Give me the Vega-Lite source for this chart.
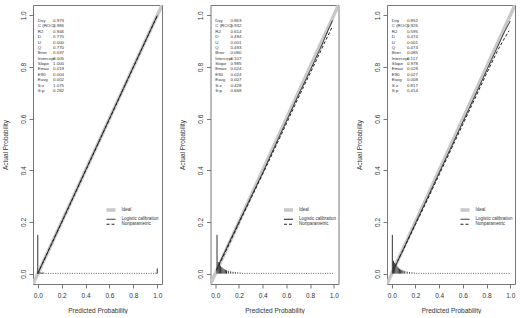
{
"$schema":"https://vega.github.io/schema/vega-lite/v6.json",
"padding":{"left":1,"top":4,"right":0,"bottom":0},
"bounds":"flush",
"spacing":48.5,
"datasets":{
"lines":[
{"p":1,"curve":"Ideal","x":-0.04,"y":-0.04},{"p":1,"curve":"Ideal","x":1.04,"y":1.04},
{"p":1,"curve":"Logistic calibration","x":0.0,"y":0.0},{"p":1,"curve":"Logistic calibration","x":0.2,"y":0.2},{"p":1,"curve":"Logistic calibration","x":0.4,"y":0.4},{"p":1,"curve":"Logistic calibration","x":0.6,"y":0.6},{"p":1,"curve":"Logistic calibration","x":0.8,"y":0.8},{"p":1,"curve":"Logistic calibration","x":1.0,"y":0.999},
{"p":1,"curve":"Nonparametric","x":0.0,"y":0.001},{"p":1,"curve":"Nonparametric","x":0.2,"y":0.198},{"p":1,"curve":"Nonparametric","x":0.4,"y":0.398},{"p":1,"curve":"Nonparametric","x":0.6,"y":0.598},{"p":1,"curve":"Nonparametric","x":0.8,"y":0.799},{"p":1,"curve":"Nonparametric","x":1.0,"y":0.998},
{"p":2,"curve":"Ideal","x":-0.04,"y":-0.04},{"p":2,"curve":"Ideal","x":1.04,"y":1.04},
{"p":2,"curve":"Logistic calibration","x":0.01,"y":0.012},{"p":2,"curve":"Logistic calibration","x":0.05,"y":0.055},{"p":2,"curve":"Logistic calibration","x":0.1,"y":0.103},{"p":2,"curve":"Logistic calibration","x":0.2,"y":0.2},{"p":2,"curve":"Logistic calibration","x":0.3,"y":0.295},{"p":2,"curve":"Logistic calibration","x":0.4,"y":0.39},{"p":2,"curve":"Logistic calibration","x":0.5,"y":0.49},{"p":2,"curve":"Logistic calibration","x":0.6,"y":0.59},{"p":2,"curve":"Logistic calibration","x":0.7,"y":0.69},{"p":2,"curve":"Logistic calibration","x":0.8,"y":0.785},{"p":2,"curve":"Logistic calibration","x":0.9,"y":0.885},{"p":2,"curve":"Logistic calibration","x":0.95,"y":0.94},{"p":2,"curve":"Logistic calibration","x":0.99,"y":0.98},
{"p":2,"curve":"Nonparametric","x":0.01,"y":0.015},{"p":2,"curve":"Nonparametric","x":0.05,"y":0.05},{"p":2,"curve":"Nonparametric","x":0.1,"y":0.098},{"p":2,"curve":"Nonparametric","x":0.2,"y":0.195},{"p":2,"curve":"Nonparametric","x":0.3,"y":0.29},{"p":2,"curve":"Nonparametric","x":0.4,"y":0.385},{"p":2,"curve":"Nonparametric","x":0.5,"y":0.482},{"p":2,"curve":"Nonparametric","x":0.6,"y":0.58},{"p":2,"curve":"Nonparametric","x":0.7,"y":0.68},{"p":2,"curve":"Nonparametric","x":0.8,"y":0.775},{"p":2,"curve":"Nonparametric","x":0.9,"y":0.872},{"p":2,"curve":"Nonparametric","x":0.95,"y":0.92},{"p":2,"curve":"Nonparametric","x":0.99,"y":0.958},
{"p":3,"curve":"Ideal","x":-0.04,"y":-0.04},{"p":3,"curve":"Ideal","x":1.04,"y":1.04},
{"p":3,"curve":"Logistic calibration","x":0.01,"y":0.008},{"p":3,"curve":"Logistic calibration","x":0.05,"y":0.048},{"p":3,"curve":"Logistic calibration","x":0.1,"y":0.097},{"p":3,"curve":"Logistic calibration","x":0.2,"y":0.195},{"p":3,"curve":"Logistic calibration","x":0.3,"y":0.292},{"p":3,"curve":"Logistic calibration","x":0.4,"y":0.39},{"p":3,"curve":"Logistic calibration","x":0.5,"y":0.488},{"p":3,"curve":"Logistic calibration","x":0.6,"y":0.587},{"p":3,"curve":"Logistic calibration","x":0.7,"y":0.686},{"p":3,"curve":"Logistic calibration","x":0.8,"y":0.786},{"p":3,"curve":"Logistic calibration","x":0.9,"y":0.885},{"p":3,"curve":"Logistic calibration","x":0.95,"y":0.935},{"p":3,"curve":"Logistic calibration","x":1.0,"y":0.978},
{"p":3,"curve":"Nonparametric","x":0.01,"y":0.012},{"p":3,"curve":"Nonparametric","x":0.05,"y":0.05},{"p":3,"curve":"Nonparametric","x":0.1,"y":0.095},{"p":3,"curve":"Nonparametric","x":0.2,"y":0.19},{"p":3,"curve":"Nonparametric","x":0.3,"y":0.285},{"p":3,"curve":"Nonparametric","x":0.4,"y":0.383},{"p":3,"curve":"Nonparametric","x":0.5,"y":0.48},{"p":3,"curve":"Nonparametric","x":0.6,"y":0.578},{"p":3,"curve":"Nonparametric","x":0.7,"y":0.676},{"p":3,"curve":"Nonparametric","x":0.8,"y":0.775},{"p":3,"curve":"Nonparametric","x":0.9,"y":0.87},{"p":3,"curve":"Nonparametric","x":0.95,"y":0.91},{"p":3,"curve":"Nonparametric","x":0.99,"y":0.94}
],
"spikes":[
{"p":1,"x":0,"h":0.15},{"p":1,"x":0.01,"h":0.006},{"p":1,"x":0.02,"h":0.005},{"p":1,"x":0.03,"h":0.004},{"p":1,"x":0.04,"h":0.004},{"p":1,"x":0.05,"h":0.004},{"p":1,"x":0.07,"h":0.003},
{"p":1,"x":0.09,"h":0.003},{"p":1,"x":0.11,"h":0.003},{"p":1,"x":0.13,"h":0.003},{"p":1,"x":0.15,"h":0.003},{"p":1,"x":0.17,"h":0.003},{"p":1,"x":0.19,"h":0.003},{"p":1,"x":0.21,"h":0.003},{"p":1,"x":0.23,"h":0.003},{"p":1,"x":0.25,"h":0.003},{"p":1,"x":0.27,"h":0.003},{"p":1,"x":0.29,"h":0.003},{"p":1,"x":0.31,"h":0.003},{"p":1,"x":0.33,"h":0.003},{"p":1,"x":0.35,"h":0.003},{"p":1,"x":0.37,"h":0.003},{"p":1,"x":0.39,"h":0.003},{"p":1,"x":0.41,"h":0.003},{"p":1,"x":0.43,"h":0.003},{"p":1,"x":0.45,"h":0.003},{"p":1,"x":0.47,"h":0.003},{"p":1,"x":0.49,"h":0.003},{"p":1,"x":0.51,"h":0.003},{"p":1,"x":0.53,"h":0.003},{"p":1,"x":0.55,"h":0.003},{"p":1,"x":0.57,"h":0.003},{"p":1,"x":0.59,"h":0.003},{"p":1,"x":0.61,"h":0.003},{"p":1,"x":0.63,"h":0.003},{"p":1,"x":0.65,"h":0.003},{"p":1,"x":0.67,"h":0.003},{"p":1,"x":0.69,"h":0.003},{"p":1,"x":0.71,"h":0.003},{"p":1,"x":0.73,"h":0.003},{"p":1,"x":0.75,"h":0.003},{"p":1,"x":0.77,"h":0.003},{"p":1,"x":0.79,"h":0.003},{"p":1,"x":0.81,"h":0.003},{"p":1,"x":0.83,"h":0.003},{"p":1,"x":0.85,"h":0.003},{"p":1,"x":0.87,"h":0.003},{"p":1,"x":0.89,"h":0.003},{"p":1,"x":0.91,"h":0.003},{"p":1,"x":0.93,"h":0.003},{"p":1,"x":0.95,"h":0.003},{"p":1,"x":0.97,"h":0.003},{"p":1,"x":0.99,"h":0.004},{"p":1,"x":1.0,"h":0.02},
{"p":2,"x":0.015,"h":0.15},{"p":2,"x":0.025,"h":0.045},{"p":2,"x":0.035,"h":0.036},{"p":2,"x":0.045,"h":0.03},{"p":2,"x":0.055,"h":0.025},{"p":2,"x":0.065,"h":0.021},{"p":2,"x":0.075,"h":0.018},{"p":2,"x":0.085,"h":0.015},{"p":2,"x":0.095,"h":0.013},{"p":2,"x":0.11,"h":0.011},{"p":2,"x":0.13,"h":0.009},{"p":2,"x":0.15,"h":0.007},{"p":2,"x":0.17,"h":0.006},{"p":2,"x":0.19,"h":0.005},{"p":2,"x":0.21,"h":0.004},
{"p":2,"x":0.23,"h":0.003},{"p":2,"x":0.25,"h":0.003},{"p":2,"x":0.27,"h":0.003},{"p":2,"x":0.29,"h":0.003},{"p":2,"x":0.31,"h":0.003},{"p":2,"x":0.33,"h":0.003},{"p":2,"x":0.35,"h":0.003},{"p":2,"x":0.37,"h":0.003},{"p":2,"x":0.39,"h":0.003},{"p":2,"x":0.41,"h":0.003},{"p":2,"x":0.43,"h":0.003},{"p":2,"x":0.45,"h":0.003},{"p":2,"x":0.47,"h":0.003},{"p":2,"x":0.49,"h":0.003},{"p":2,"x":0.51,"h":0.003},{"p":2,"x":0.53,"h":0.003},{"p":2,"x":0.55,"h":0.003},{"p":2,"x":0.57,"h":0.003},{"p":2,"x":0.59,"h":0.003},{"p":2,"x":0.61,"h":0.003},{"p":2,"x":0.63,"h":0.003},{"p":2,"x":0.65,"h":0.003},{"p":2,"x":0.67,"h":0.003},{"p":2,"x":0.69,"h":0.003},{"p":2,"x":0.71,"h":0.003},{"p":2,"x":0.73,"h":0.003},{"p":2,"x":0.75,"h":0.003},{"p":2,"x":0.77,"h":0.003},{"p":2,"x":0.79,"h":0.003},{"p":2,"x":0.81,"h":0.003},{"p":2,"x":0.83,"h":0.003},{"p":2,"x":0.85,"h":0.003},{"p":2,"x":0.87,"h":0.003},{"p":2,"x":0.89,"h":0.003},{"p":2,"x":0.91,"h":0.003},{"p":2,"x":0.93,"h":0.003},{"p":2,"x":0.95,"h":0.003},{"p":2,"x":0.97,"h":0.003},{"p":2,"x":0.99,"h":0.003},
{"p":3,"x":0.005,"h":0.15},{"p":3,"x":0.015,"h":0.05},{"p":3,"x":0.025,"h":0.042},{"p":3,"x":0.035,"h":0.034},{"p":3,"x":0.045,"h":0.028},{"p":3,"x":0.055,"h":0.023},{"p":3,"x":0.065,"h":0.019},{"p":3,"x":0.075,"h":0.016},{"p":3,"x":0.085,"h":0.014},{"p":3,"x":0.095,"h":0.012},{"p":3,"x":0.11,"h":0.01},{"p":3,"x":0.13,"h":0.008},{"p":3,"x":0.15,"h":0.006},{"p":3,"x":0.17,"h":0.005},{"p":3,"x":0.19,"h":0.004},
{"p":3,"x":0.21,"h":0.003},{"p":3,"x":0.23,"h":0.003},{"p":3,"x":0.25,"h":0.003},{"p":3,"x":0.27,"h":0.003},{"p":3,"x":0.29,"h":0.003},{"p":3,"x":0.31,"h":0.003},{"p":3,"x":0.33,"h":0.003},{"p":3,"x":0.35,"h":0.003},{"p":3,"x":0.37,"h":0.003},{"p":3,"x":0.39,"h":0.003},{"p":3,"x":0.41,"h":0.003},{"p":3,"x":0.43,"h":0.003},{"p":3,"x":0.45,"h":0.003},{"p":3,"x":0.47,"h":0.003},{"p":3,"x":0.49,"h":0.003},{"p":3,"x":0.51,"h":0.003},{"p":3,"x":0.53,"h":0.003},{"p":3,"x":0.55,"h":0.003},{"p":3,"x":0.57,"h":0.003},{"p":3,"x":0.59,"h":0.003},{"p":3,"x":0.61,"h":0.003},{"p":3,"x":0.63,"h":0.003},{"p":3,"x":0.65,"h":0.003},{"p":3,"x":0.67,"h":0.003},{"p":3,"x":0.69,"h":0.003},{"p":3,"x":0.71,"h":0.003},{"p":3,"x":0.73,"h":0.003},{"p":3,"x":0.75,"h":0.003},{"p":3,"x":0.77,"h":0.003},{"p":3,"x":0.79,"h":0.003},{"p":3,"x":0.81,"h":0.003},{"p":3,"x":0.83,"h":0.003},{"p":3,"x":0.85,"h":0.003},{"p":3,"x":0.87,"h":0.003},{"p":3,"x":0.89,"h":0.003},{"p":3,"x":0.91,"h":0.003},{"p":3,"x":0.93,"h":0.003},{"p":3,"x":0.95,"h":0.003},{"p":3,"x":0.97,"h":0.003},{"p":3,"x":0.99,"h":0.003}
],
"stats":[
{"p":1,"stat":"Dxy","v":0.973},{"p":1,"stat":"C (ROC)","v":0.986},{"p":1,"stat":"R2","v":0.946},{"p":1,"stat":"D","v":0.770},{"p":1,"stat":"U","v":0.000},{"p":1,"stat":"Q","v":0.770},{"p":1,"stat":"Brier","v":0.037},{"p":1,"stat":"Intercept","v":0.005},{"p":1,"stat":"Slope","v":1.000},{"p":1,"stat":"Emax","v":0.019},{"p":1,"stat":"E90","v":0.004},{"p":1,"stat":"Eavg","v":0.002},{"p":1,"stat":"S:z","v":1.075},{"p":1,"stat":"S:p","v":0.282},
{"p":2,"stat":"Dxy","v":0.863},{"p":2,"stat":"C (ROC)","v":0.932},{"p":2,"stat":"R2","v":0.614},{"p":2,"stat":"D","v":0.494},{"p":2,"stat":"U","v":0.001},{"p":2,"stat":"Q","v":0.493},{"p":2,"stat":"Brier","v":0.080},{"p":2,"stat":"Intercept","v":0.107},{"p":2,"stat":"Slope","v":0.985},{"p":2,"stat":"Emax","v":0.024},{"p":2,"stat":"E90","v":0.024},{"p":2,"stat":"Eavg","v":0.007},{"p":2,"stat":"S:z","v":0.428},{"p":2,"stat":"S:p","v":0.668},
{"p":3,"stat":"Dxy","v":0.852},{"p":3,"stat":"C (ROC)","v":0.926},{"p":3,"stat":"R2","v":0.595},{"p":3,"stat":"D","v":0.474},{"p":3,"stat":"U","v":0.001},{"p":3,"stat":"Q","v":0.473},{"p":3,"stat":"Brier","v":0.085},{"p":3,"stat":"Intercept","v":0.117},{"p":3,"stat":"Slope","v":0.978},{"p":3,"stat":"Emax","v":0.028},{"p":3,"stat":"E90","v":0.027},{"p":3,"stat":"Eavg","v":0.008},{"p":3,"stat":"S:z","v":0.817},{"p":3,"stat":"S:p","v":0.414}
]
},
"hconcat":[
{"width":129,"height":279,
"layer":[
{"data":{"name":"lines"},"transform":[{"filter":"datum.p==1"}],"mark":{"type":"line","clip":true},
"encoding":{
"x":{"field":"x","type":"quantitative","scale":{"domain":[-0.04,1.04],"nice":false,"zero":false},"axis":{"values":[0,0.2,0.4,0.6,0.8,1],"format":".1f","labelOverlap":false},"title":"Predicted Probability"},
"y":{"field":"y","type":"quantitative","scale":{"domain":[-0.04,1.04],"nice":false,"zero":false},"axis":{"values":[0,0.2,0.4,0.6,0.8,1],"format":".1f","labelOverlap":false},"title":"Actual Probability"},
"color":{"field":"curve","type":"nominal","scale":{"domain":["Ideal","Logistic calibration","Nonparametric"],"range":["#c8c8c8","#222222","#222222"]},"legend":{"title":null}},
"strokeDash":{"field":"curve","type":"nominal","scale":{"domain":["Ideal","Logistic calibration","Nonparametric"],"range":[[1,0],[1,0],[3,2]]},"legend":{"title":null}},
"strokeWidth":{"field":"curve","type":"nominal","scale":{"type":"ordinal","domain":["Ideal","Logistic calibration","Nonparametric"],"range":[3.5,1,1]},"legend":{"title":null}}}},
{"data":{"name":"spikes"},"transform":[{"filter":"datum.p==1"}],"mark":{"type":"rule","color":"#333333","strokeWidth":1},
"encoding":{"x":{"field":"x","type":"quantitative","axis":{"values":[0,0.2,0.4,0.6,0.8,1],"format":".1f","labelOverlap":false},"title":"Predicted Probability"},"y":{"field":"h","type":"quantitative","scale":{"domain":[-0.04,1.04],"nice":false,"zero":false},"axis":null},"y2":{"datum":0}}},
{"data":{"name":"stats"},"transform":[{"filter":"datum.p==1"}],"mark":{"type":"text","align":"left","baseline":"middle","fontSize":4.4,"color":"#333333"},
"encoding":{"x":{"datum":0,"type":"quantitative","axis":{"values":[0,0.2,0.4,0.6,0.8,1],"format":".1f","labelOverlap":false},"title":"Predicted Probability"},"y":{"field":"stat","type":"nominal","sort":["Dxy","C (ROC)","R2","D","U","Q","Brier","Intercept","Slope","Emax","E90","Eavg","S:z","S:p"],"scale":{"type":"point","range":[16,86],"padding":0},"axis":null},"text":{"field":"stat"}}},
{"data":{"name":"stats"},"transform":[{"filter":"datum.p==1"}],"mark":{"type":"text","align":"left","baseline":"middle","fontSize":4.4,"color":"#333333"},
"encoding":{"x":{"datum":0.128,"type":"quantitative","axis":{"values":[0,0.2,0.4,0.6,0.8,1],"format":".1f","labelOverlap":false},"title":"Predicted Probability"},"y":{"field":"stat","type":"nominal","sort":["Dxy","C (ROC)","R2","D","U","Q","Brier","Intercept","Slope","Emax","E90","Eavg","S:z","S:p"],"scale":{"type":"point","range":[16,86],"padding":0},"axis":null},"text":{"field":"v","format":".3f"}}}
],
"resolve":{"scale":{"y":"independent"}}},
{"width":128,"height":279,
"layer":[
{"data":{"name":"lines"},"transform":[{"filter":"datum.p==2"}],"mark":{"type":"line","clip":true},
"encoding":{
"x":{"field":"x","type":"quantitative","scale":{"domain":[-0.04,1.04],"nice":false,"zero":false},"axis":{"values":[0,0.2,0.4,0.6,0.8,1],"format":".1f","labelOverlap":false},"title":"Predicted Probability"},
"y":{"field":"y","type":"quantitative","scale":{"domain":[-0.04,1.04],"nice":false,"zero":false},"axis":{"values":[0,0.2,0.4,0.6,0.8,1],"format":".1f","labelOverlap":false},"title":"Actual Probability"},
"color":{"field":"curve","type":"nominal","scale":{"domain":["Ideal","Logistic calibration","Nonparametric"],"range":["#c8c8c8","#222222","#222222"]},"legend":{"title":null}},
"strokeDash":{"field":"curve","type":"nominal","scale":{"domain":["Ideal","Logistic calibration","Nonparametric"],"range":[[1,0],[1,0],[3,2]]},"legend":{"title":null}},
"strokeWidth":{"field":"curve","type":"nominal","scale":{"type":"ordinal","domain":["Ideal","Logistic calibration","Nonparametric"],"range":[3.5,1,1]},"legend":{"title":null}}}},
{"data":{"name":"spikes"},"transform":[{"filter":"datum.p==2"}],"mark":{"type":"rule","color":"#333333","strokeWidth":1},
"encoding":{"x":{"field":"x","type":"quantitative","axis":{"values":[0,0.2,0.4,0.6,0.8,1],"format":".1f","labelOverlap":false},"title":"Predicted Probability"},"y":{"field":"h","type":"quantitative","scale":{"domain":[-0.04,1.04],"nice":false,"zero":false},"axis":null},"y2":{"datum":0}}},
{"data":{"name":"stats"},"transform":[{"filter":"datum.p==2"}],"mark":{"type":"text","align":"left","baseline":"middle","fontSize":4.4,"color":"#333333"},
"encoding":{"x":{"datum":0,"type":"quantitative","axis":{"values":[0,0.2,0.4,0.6,0.8,1],"format":".1f","labelOverlap":false},"title":"Predicted Probability"},"y":{"field":"stat","type":"nominal","sort":["Dxy","C (ROC)","R2","D","U","Q","Brier","Intercept","Slope","Emax","E90","Eavg","S:z","S:p"],"scale":{"type":"point","range":[16,86],"padding":0},"axis":null},"text":{"field":"stat"}}},
{"data":{"name":"stats"},"transform":[{"filter":"datum.p==2"}],"mark":{"type":"text","align":"left","baseline":"middle","fontSize":4.4,"color":"#333333"},
"encoding":{"x":{"datum":0.128,"type":"quantitative","axis":{"values":[0,0.2,0.4,0.6,0.8,1],"format":".1f","labelOverlap":false},"title":"Predicted Probability"},"y":{"field":"stat","type":"nominal","sort":["Dxy","C (ROC)","R2","D","U","Q","Brier","Intercept","Slope","Emax","E90","Eavg","S:z","S:p"],"scale":{"type":"point","range":[16,86],"padding":0},"axis":null},"text":{"field":"v","format":".3f"}}}
],
"resolve":{"scale":{"y":"independent"}}},
{"width":128,"height":279,
"layer":[
{"data":{"name":"lines"},"transform":[{"filter":"datum.p==3"}],"mark":{"type":"line","clip":true},
"encoding":{
"x":{"field":"x","type":"quantitative","scale":{"domain":[-0.04,1.04],"nice":false,"zero":false},"axis":{"values":[0,0.2,0.4,0.6,0.8,1],"format":".1f","labelOverlap":false},"title":"Predicted Probability"},
"y":{"field":"y","type":"quantitative","scale":{"domain":[-0.04,1.04],"nice":false,"zero":false},"axis":{"values":[0,0.2,0.4,0.6,0.8,1],"format":".1f","labelOverlap":false},"title":"Actual Probability"},
"color":{"field":"curve","type":"nominal","scale":{"domain":["Ideal","Logistic calibration","Nonparametric"],"range":["#c8c8c8","#222222","#222222"]},"legend":{"title":null}},
"strokeDash":{"field":"curve","type":"nominal","scale":{"domain":["Ideal","Logistic calibration","Nonparametric"],"range":[[1,0],[1,0],[3,2]]},"legend":{"title":null}},
"strokeWidth":{"field":"curve","type":"nominal","scale":{"type":"ordinal","domain":["Ideal","Logistic calibration","Nonparametric"],"range":[3.5,1,1]},"legend":{"title":null}}}},
{"data":{"name":"spikes"},"transform":[{"filter":"datum.p==3"}],"mark":{"type":"rule","color":"#333333","strokeWidth":1},
"encoding":{"x":{"field":"x","type":"quantitative","axis":{"values":[0,0.2,0.4,0.6,0.8,1],"format":".1f","labelOverlap":false},"title":"Predicted Probability"},"y":{"field":"h","type":"quantitative","scale":{"domain":[-0.04,1.04],"nice":false,"zero":false},"axis":null},"y2":{"datum":0}}},
{"data":{"name":"stats"},"transform":[{"filter":"datum.p==3"}],"mark":{"type":"text","align":"left","baseline":"middle","fontSize":4.4,"color":"#333333"},
"encoding":{"x":{"datum":0,"type":"quantitative","axis":{"values":[0,0.2,0.4,0.6,0.8,1],"format":".1f","labelOverlap":false},"title":"Predicted Probability"},"y":{"field":"stat","type":"nominal","sort":["Dxy","C (ROC)","R2","D","U","Q","Brier","Intercept","Slope","Emax","E90","Eavg","S:z","S:p"],"scale":{"type":"point","range":[16,86],"padding":0},"axis":null},"text":{"field":"stat"}}},
{"data":{"name":"stats"},"transform":[{"filter":"datum.p==3"}],"mark":{"type":"text","align":"left","baseline":"middle","fontSize":4.4,"color":"#333333"},
"encoding":{"x":{"datum":0.128,"type":"quantitative","axis":{"values":[0,0.2,0.4,0.6,0.8,1],"format":".1f","labelOverlap":false},"title":"Predicted Probability"},"y":{"field":"stat","type":"nominal","sort":["Dxy","C (ROC)","R2","D","U","Q","Brier","Intercept","Slope","Emax","E90","Eavg","S:z","S:p"],"scale":{"type":"point","range":[16,86],"padding":0},"axis":null},"text":{"field":"v","format":".3f"}}}
],
"resolve":{"scale":{"y":"independent"}}}
],
"resolve":{"scale":{"x":"independent","y":"independent","color":"independent","strokeDash":"independent","strokeWidth":"independent"},"legend":{"color":"independent","strokeDash":"independent","strokeWidth":"independent"}},
"config":{
"font":"Liberation Sans",
"view":{"stroke":"#777777","strokeWidth":1},
"axis":{"grid":false,"domain":false,"tickSize":4,"tickColor":"#777777","labelFontSize":6.5,"labelColor":"#333333","titleFontSize":6.5,"titleFontWeight":"normal","titleColor":"#333333","labelFlush":false,"labelOverlap":false},
"axisX":{"labelPadding":4,"titlePadding":8.5},
"axisY":{"labelAngle":-90,"labelAlign":"center","labelBaseline":"bottom","labelPadding":3,"titlePadding":12},
"legend":{"orient":"none","legendX":75,"legendY":202,"symbolType":"M-4.5,0L4.5,0","symbolSize":4,"labelFontSize":4.5,"labelColor":"#333333","rowPadding":-3.5,"labelOffset":7.5,"padding":0}
}
}
